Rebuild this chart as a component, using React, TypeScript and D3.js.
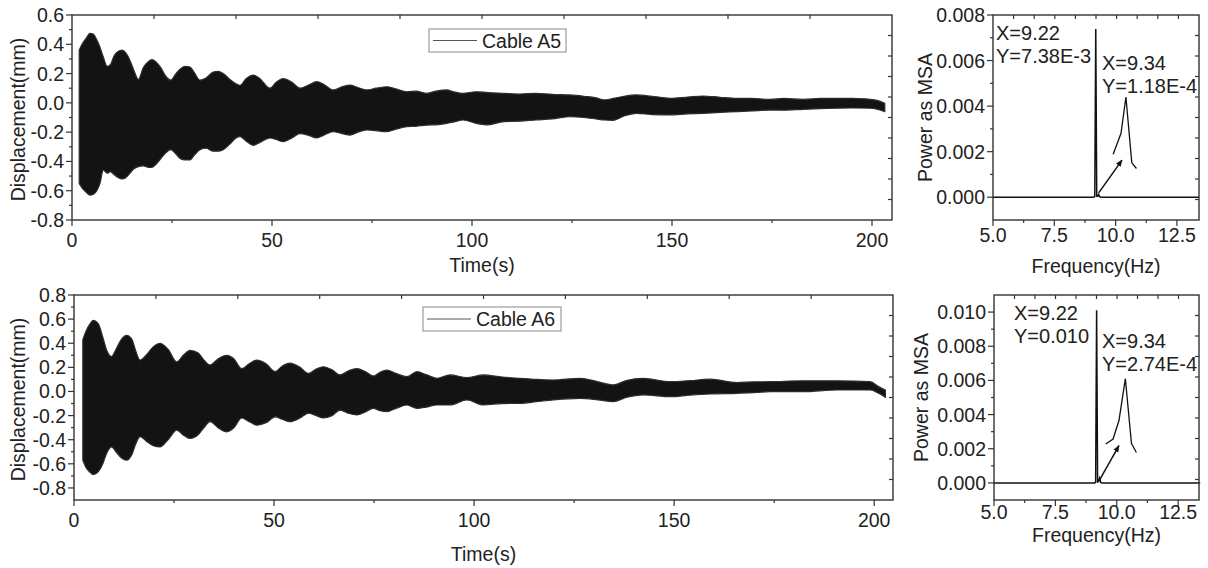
import React from "react";
import * as d3 from "d3";

// ---------- data ----------
const timeTicks = [0, 50, 100, 150, 200];
const timeMinor = [25, 75, 125, 175];
const dispTicksA5 = [-0.8, -0.6, -0.4, -0.2, 0, 0.2, 0.4, 0.6];
const dispMinorA5 = [-0.7, -0.5, -0.3, -0.1, 0.1, 0.3, 0.5];
const dispTicksA6 = [-0.8, -0.6, -0.4, -0.2, 0, 0.2, 0.4, 0.6, 0.8];
const dispMinorA6 = [-0.7, -0.5, -0.3, -0.1, 0.1, 0.3, 0.5, 0.7];
const freqTicks = [5, 7.5, 10, 12.5];
const freqMinor = [6.25, 8.75, 11.25];
const powerTicksA5 = [0, 0.002, 0.004, 0.006, 0.008];
const powerMinorA5 = [0.001, 0.003, 0.005, 0.007];
const powerTicksA6 = [0, 0.002, 0.004, 0.006, 0.008, 0.01];
const powerMinorA6 = [0.001, 0.003, 0.005, 0.007, 0.009];

// Cable A5 displacement envelope (mm)
const a5Time = [1.8, 2.5, 3.5, 4.5, 5.3, 6.2, 7.0, 7.8, 8.8, 9.6, 10.5, 11.5, 12.5, 13.5, 14.5, 15.5, 16.6, 17.8, 19, 20, 21, 22.2, 23.5, 24.7, 26, 27, 28.3, 29.5, 30.5, 32, 33.5, 35.3, 36.5, 37.8, 39.5, 41, 42, 43.5, 45.3, 47, 49.5, 51, 52.8, 55, 57, 59, 61.2, 63, 65.3, 67.5, 69.5, 71.5, 73.7, 76, 78.7, 81, 83.7, 86, 88.7, 91, 93.7, 95.5, 97.8, 101, 104, 108, 112, 116, 120, 124.5, 128, 131, 133, 135.3, 138, 141.2, 145, 149.5, 154, 157.8, 162, 166.2, 170, 174.5, 178, 182.8, 187, 191.2, 195, 199.5, 201.5, 203.2];
const a5Upper = [0.36, 0.40, 0.44, 0.475, 0.47, 0.43, 0.38, 0.315, 0.25, 0.26, 0.32, 0.35, 0.36, 0.34, 0.29, 0.22, 0.16, 0.24, 0.28, 0.295, 0.28, 0.24, 0.18, 0.155, 0.2, 0.23, 0.25, 0.245, 0.21, 0.155, 0.17, 0.21, 0.215, 0.2, 0.16, 0.13, 0.12, 0.165, 0.19, 0.165, 0.1, 0.14, 0.165, 0.14, 0.1, 0.12, 0.145, 0.125, 0.088, 0.11, 0.122, 0.105, 0.088, 0.1, 0.11, 0.095, 0.076, 0.08, 0.065, 0.08, 0.088, 0.075, 0.065, 0.076, 0.07, 0.065, 0.06, 0.065, 0.058, 0.054, 0.045, 0.035, 0.02, 0.03, 0.045, 0.054, 0.045, 0.031, 0.04, 0.047, 0.038, 0.031, 0.03, 0.024, 0.03, 0.024, 0.03, 0.031, 0.03, 0.024, 0.015, -0.003];
const a5Lower = [-0.55, -0.58, -0.61, -0.63, -0.625, -0.6, -0.55, -0.46, -0.48, -0.47, -0.49, -0.51, -0.52, -0.51, -0.48, -0.45, -0.435, -0.43, -0.44, -0.44, -0.42, -0.38, -0.34, -0.32, -0.35, -0.38, -0.39, -0.39, -0.36, -0.32, -0.31, -0.33, -0.33, -0.32, -0.28, -0.24, -0.23, -0.26, -0.29, -0.27, -0.24, -0.25, -0.265, -0.24, -0.21, -0.22, -0.24, -0.22, -0.197, -0.21, -0.22, -0.2, -0.185, -0.19, -0.197, -0.18, -0.163, -0.16, -0.152, -0.15, -0.14, -0.13, -0.117, -0.14, -0.15, -0.128, -0.125, -0.117, -0.11, -0.095, -0.1, -0.11, -0.117, -0.12, -0.09, -0.072, -0.08, -0.083, -0.075, -0.072, -0.065, -0.06, -0.055, -0.049, -0.05, -0.044, -0.04, -0.037, -0.035, -0.037, -0.045, -0.06];

// Cable A6 displacement envelope (mm)
const a6Time = [2.2, 3.0, 4.0, 4.8, 6.1, 7.2, 8.2, 9.4, 10.5, 11.8, 13.2, 14.5, 15.5, 16.5, 18, 19.8, 21.5, 23.5, 25.7, 27.3, 29, 31, 32.5, 34, 36, 38.2, 40, 41.9, 43.8, 45.7, 48, 50.3, 52, 54, 56.5, 58.6, 60.5, 62.3, 64.5, 66.5, 68.5, 70.7, 72.8, 74.8, 76.5, 78.2, 80.5, 83.2, 85.7, 88, 90.7, 94, 98.2, 102.3, 107, 111.5, 115.5, 119.8, 126.5, 131, 134.8, 138, 142.3, 149, 154, 159, 165.7, 170, 174, 182.3, 190.7, 199, 201.1, 202.8];
const a6Upper = [0.43, 0.5, 0.56, 0.59, 0.56, 0.45, 0.34, 0.29, 0.35, 0.43, 0.465, 0.43, 0.33, 0.26, 0.3, 0.37, 0.4, 0.35, 0.245, 0.3, 0.34, 0.32, 0.26, 0.22, 0.27, 0.3, 0.27, 0.19, 0.23, 0.26, 0.23, 0.165, 0.21, 0.235, 0.2, 0.15, 0.185, 0.205, 0.18, 0.137, 0.17, 0.19, 0.165, 0.128, 0.16, 0.178, 0.15, 0.123, 0.164, 0.14, 0.109, 0.137, 0.116, 0.137, 0.12, 0.109, 0.1, 0.095, 0.109, 0.08, 0.054, 0.09, 0.109, 0.081, 0.09, 0.102, 0.074, 0.08, 0.081, 0.088, 0.088, 0.081, 0.04, 0.012];
const a6Lower = [-0.57, -0.63, -0.67, -0.69, -0.665, -0.6, -0.51, -0.46, -0.5, -0.55, -0.57, -0.52, -0.43, -0.375, -0.41, -0.45, -0.46, -0.4, -0.32, -0.36, -0.39, -0.36, -0.3, -0.25, -0.3, -0.335, -0.3, -0.22, -0.25, -0.28, -0.26, -0.21, -0.23, -0.25, -0.22, -0.18, -0.2, -0.22, -0.2, -0.154, -0.18, -0.195, -0.17, -0.14, -0.16, -0.168, -0.14, -0.112, -0.14, -0.13, -0.112, -0.112, -0.07, -0.112, -0.1, -0.098, -0.085, -0.07, -0.057, -0.07, -0.084, -0.05, -0.029, -0.043, -0.03, -0.021, -0.015, -0.01, -0.002, -0.002, 0.012, 0.012, -0.015, -0.049];

// Spectra (Power as MSA)
const a5Freq = [5, 9.1, 9.15, 9.19, 9.23, 9.27, 9.31, 9.35, 9.4, 13.4];
const a5Power = [0, 0, 0.00003, 0.00738, 0.00005, 0.00004, 0.000118, 0.00002, 0, 0];
const a5ZoomFreq = [9.9, 10.22, 10.42, 10.66, 10.85];
const a5ZoomPower = [0.00189, 0.00281, 0.0044, 0.00151, 0.00126];
const a5ArrowFreq = [9.31, 10.26];
const a5ArrowPower = [0.00019, 0.00163];

const a6Freq = [5, 9.1, 9.14, 9.18, 9.22, 9.26, 9.3, 9.35, 9.4, 13.4];
const a6Power = [0, 0, 0.00004, 0.0101, 0.00006, 0.00008, 0.000274, 0.00003, 0, 0];
const a6ZoomFreq = [9.55, 9.85, 10.09, 10.35, 10.6, 10.8];
const a6ZoomPower = [0.00228, 0.00257, 0.00365, 0.0061, 0.00231, 0.00178];
const a6ArrowFreq = [9.28, 10.09];
const a6ArrowPower = [0.00012, 0.00218];

// ---------- drawing ----------
const FONT = "'Liberation Sans', Arial, Helvetica, sans-serif";
const FS = 19.5;
const TXT = "#222";
const AX = "#333";

type Box = { x0: number; x1: number; y0: number; y1: number };

function Frame({ b }: { b: Box }) {
  const w = b.x1 - b.x0;
  const h = b.y1 - b.y0;
  const inner = d3.range(1, 10);
  return (
    <g>
      <rect x={b.x0} y={b.y0} width={w} height={h} fill="none" stroke={AX} strokeWidth={1.4} />
      {inner.map((i) => (
        <line key={"t" + i} x1={b.x0 + (i * w) / 10} x2={b.x0 + (i * w) / 10} y1={b.y0} y2={b.y0 + 4} stroke={AX} strokeWidth={1.2} />
      ))}
      {inner.map((i) => (
        <line key={"r" + i} x1={b.x1} x2={b.x1 - 4} y1={b.y0 + (i * h) / 10} y2={b.y0 + (i * h) / 10} stroke={AX} strokeWidth={1.2} />
      ))}
    </g>
  );
}

function Axes(props: {
  b: Box;
  x: d3.ScaleLinear<number, number>;
  y: d3.ScaleLinear<number, number>;
  xt: number[];
  xm: number[];
  yt: number[];
  ym: number[];
  fx: (v: number) => string;
  fy: (v: number) => string;
  xLabelDy: number;
}) {
  const { b, x, y, xt, xm, yt, ym, fx, fy, xLabelDy } = props;
  return (
    <g fontFamily={FONT} fontSize={FS} fill={TXT}>
      {yt.map((v) => (
        <g key={"yt" + v}>
          <line x1={b.x0 - 6} x2={b.x0} y1={y(v)} y2={y(v)} stroke={AX} strokeWidth={1.2} />
          <text x={b.x0 - 8} y={y(v)} dy="0.36em" textAnchor="end">
            {fy(v)}
          </text>
        </g>
      ))}
      {ym.map((v) => (
        <line key={"ym" + v} x1={b.x0 - 3} x2={b.x0} y1={y(v)} y2={y(v)} stroke={AX} strokeWidth={1.2} />
      ))}
      {xt.map((v) => (
        <g key={"xt" + v}>
          <line x1={x(v)} x2={x(v)} y1={b.y1} y2={b.y1 + 6} stroke={AX} strokeWidth={1.2} />
          <text x={x(v)} y={b.y1 + xLabelDy} textAnchor="middle">
            {fx(v)}
          </text>
        </g>
      ))}
      {xm.map((v) => (
        <line key={"xm" + v} x1={x(v)} x2={x(v)} y1={b.y1} y2={b.y1 + 3} stroke={AX} strokeWidth={1.2} />
      ))}
    </g>
  );
}

function TimePanel(props: {
  b: Box;
  xMax: number;
  yDomain: [number, number];
  yt: number[];
  ym: number[];
  t: number[];
  up: number[];
  lo: number[];
  legend: string;
  lg: { x: number; y: number; w: number; h: number };
  titleY: number;
  ylabelX: number;
}) {
  const { b, xMax, yDomain, yt, ym, t, up, lo, legend, lg, titleY, ylabelX } = props;
  const x = d3.scaleLinear().domain([0, xMax]).range([b.x0, b.x1]);
  const y = d3.scaleLinear().domain(yDomain).range([b.y1, b.y0]);
  const pts = t.map((v, i) => ({ t: v, u: up[i], l: lo[i] }));
  const area = d3
    .area<{ t: number; u: number; l: number }>()
    .x((d) => x(d.t))
    .y0((d) => y(d.l))
    .y1((d) => y(d.u))
    .curve(d3.curveMonotoneX);
  const cy = (b.y0 + b.y1) / 2;
  return (
    <g>
      <path d={area(pts) || ""} fill="#131313" stroke="#2e2e2e" strokeWidth={1.2} strokeLinejoin="round" />
      <Frame b={b} />
      <Axes b={b} x={x} y={y} xt={timeTicks} xm={timeMinor} yt={yt} ym={ym} fx={(v) => String(v)} fy={(v) => v.toFixed(1)} xLabelDy={27} />
      <text x={(b.x0 + b.x1) / 2} y={titleY} textAnchor="middle" fontFamily={FONT} fontSize={FS} fill={TXT}>
        Time(s)
      </text>
      <text transform={`translate(${ylabelX},${cy + 2}) rotate(-90)`} textAnchor="middle" fontFamily={FONT} fontSize={FS} fill={TXT}>
        Displacement(mm)
      </text>
      <rect x={lg.x} y={lg.y} width={lg.w} height={lg.h} fill="#fff" stroke="#888" strokeWidth={1} />
      <line x1={lg.x + 4} x2={lg.x + 48} y1={lg.y + lg.h / 2} y2={lg.y + lg.h / 2} stroke="#555" strokeWidth={1} />
      <text x={lg.x + 53} y={lg.y + lg.h / 2} dy="0.36em" fontFamily={FONT} fontSize={FS} fill={TXT}>
        {legend}
      </text>
    </g>
  );
}

function SpecPanel(props: {
  b: Box;
  xMax: number;
  yDomain: [number, number];
  yt: number[];
  ym: number[];
  f: number[];
  p: number[];
  zf: number[];
  zp: number[];
  af: number[];
  ap: number[];
  notes: { text: string; x: number; y: number }[];
  titleY: number;
  tickDy: number;
  ylabelX: number;
  id: string;
}) {
  const { b, xMax, yDomain, yt, ym, f, p, zf, zp, af, ap, notes, titleY, tickDy, ylabelX, id } = props;
  const x = d3.scaleLinear().domain([5, xMax]).range([b.x0, b.x1]);
  const y = d3.scaleLinear().domain(yDomain).range([b.y1, b.y0]);
  const line = d3
    .line<number>()
    .x((_, i) => x(f[i]))
    .y((v) => y(v));
  const zline = d3
    .line<number>()
    .x((_, i) => x(zf[i]))
    .y((v) => y(v));
  const cy = (b.y0 + b.y1) / 2;
  return (
    <g>
      <defs>
        <marker id={id} viewBox="0 0 10 10" refX="9" refY="5" markerWidth="7" markerHeight="7" orient="auto" markerUnits="userSpaceOnUse">
          <path d="M0,1 L10,5 L0,9 Z" fill="#111" />
        </marker>
      </defs>
      <path d={line(p) || ""} fill="none" stroke="#111" strokeWidth={1.5} />
      <path d={zline(zp) || ""} fill="none" stroke="#111" strokeWidth={1.3} />
      <line x1={x(af[0])} y1={y(ap[0])} x2={x(af[1])} y2={y(ap[1])} stroke="#111" strokeWidth={1.5} markerEnd={`url(#${id})`} />
      <Frame b={b} />
      <Axes b={b} x={x} y={y} xt={freqTicks} xm={freqMinor} yt={yt} ym={ym} fx={(v) => v.toFixed(1)} fy={(v) => v.toFixed(3)} xLabelDy={tickDy} />
      <text x={(b.x0 + b.x1) / 2} y={titleY} textAnchor="middle" fontFamily={FONT} fontSize={FS} fill={TXT}>
        Frequency(Hz)
      </text>
      <text transform={`translate(${ylabelX},${cy}) rotate(-90)`} textAnchor="middle" fontFamily={FONT} fontSize={FS} fill={TXT}>
        Power as MSA
      </text>
      {notes.map((n) => (
        <text key={n.text + n.y} x={n.x} y={n.y} fontFamily={FONT} fontSize={20} fill={TXT}>
          {n.text}
        </text>
      ))}
    </g>
  );
}

export default function App() {
  const tl: Box = { x0: 72, x1: 892, y0: 15, y1: 220 };
  const bl: Box = { x0: 74, x1: 893, y0: 295, y1: 500 };
  const tr: Box = { x0: 993, x1: 1199, y0: 15, y1: 220 };
  const br: Box = { x0: 994, x1: 1199, y0: 295, y1: 500 };
  return (
    <svg width={1208} height={568} style={{ position: "absolute", left: 0, top: 0, background: "#fff" }}>
      <rect x={0} y={0} width={1208} height={568} fill="#fff" />
      <TimePanel b={tl} xMax={205} yDomain={[-0.8, 0.6]} yt={dispTicksA5} ym={dispMinorA5} t={a5Time} up={a5Upper} lo={a5Lower} legend="Cable A5" lg={{ x: 429, y: 29, w: 137, h: 23 }} titleY={272} ylabelX={25} />
      <TimePanel b={bl} xMax={204.7} yDomain={[-0.9, 0.8]} yt={dispTicksA6} ym={dispMinorA6} t={a6Time} up={a6Upper} lo={a6Lower} legend="Cable A6" lg={{ x: 423, y: 307, w: 138, h: 24 }} titleY={561} ylabelX={25} />
      <SpecPanel
        id="arrA5"
        b={tr}
        xMax={13.4}
        yDomain={[-0.001, 0.008]}
        yt={powerTicksA5}
        ym={powerMinorA5}
        f={a5Freq}
        p={a5Power}
        zf={a5ZoomFreq}
        zp={a5ZoomPower}
        af={a5ArrowFreq}
        ap={a5ArrowPower}
        notes={[
          { text: "X=9.22", x: 996, y: 40 },
          { text: "Y=7.38E-3", x: 996, y: 63 },
          { text: "X=9.34", x: 1102, y: 70 },
          { text: "Y=1.18E-4", x: 1102, y: 93 },
        ]}
        titleY={273}
        tickDy={22}
        ylabelX={932}
      />
      <SpecPanel
        id="arrA6"
        b={br}
        xMax={13.35}
        yDomain={[-0.001, 0.011]}
        yt={powerTicksA6}
        ym={powerMinorA6}
        f={a6Freq}
        p={a6Power}
        zf={a6ZoomFreq}
        zp={a6ZoomPower}
        af={a6ArrowFreq}
        ap={a6ArrowPower}
        notes={[
          { text: "X=9.22", x: 1014, y: 320 },
          { text: "Y=0.010", x: 1014, y: 343 },
          { text: "X=9.34", x: 1102, y: 348 },
          { text: "Y=2.74E-4", x: 1102, y: 371 },
        ]}
        titleY={542}
        tickDy={19}
        ylabelX={928}
      />
    </svg>
  );
}
